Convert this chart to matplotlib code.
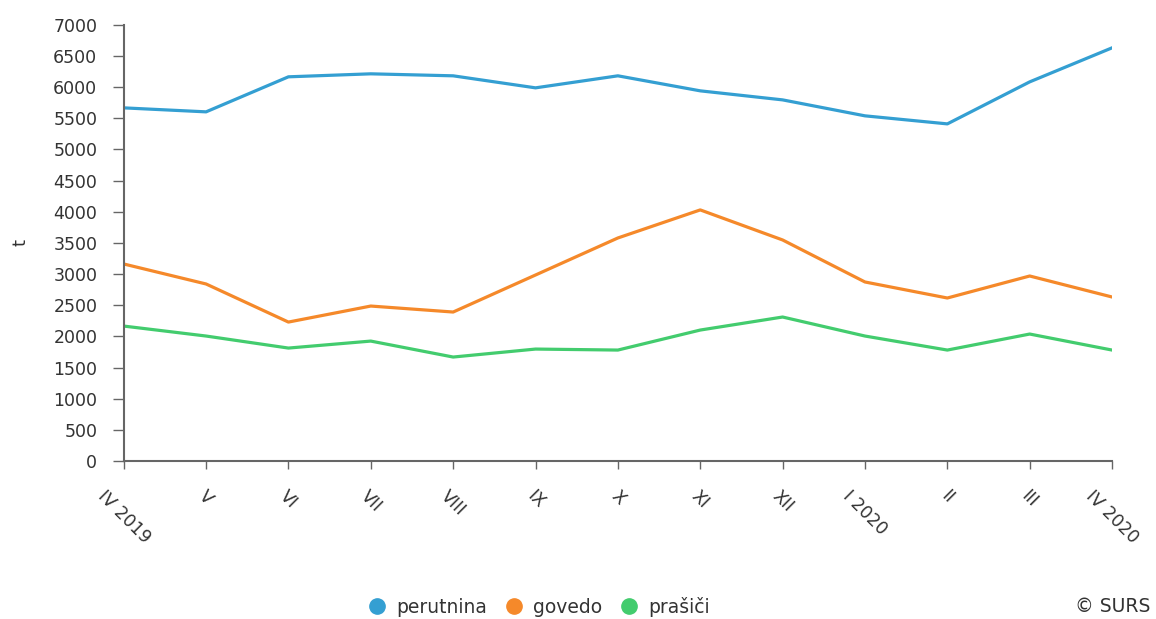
import matplotlib
matplotlib.use("Agg")
import matplotlib.pyplot as plt
from matplotlib.lines import Line2D

plt.rcParams['font.family'] = ['DejaVu Sans']

months = ['IV 2019', 'V', 'VI', 'VII', 'VIII', 'IX', 'X', 'XI', 'XII',
          'I 2020', 'II', 'III', 'IV 2020']
perutnina = [5667, 5603, 6165, 6213, 6181, 5988, 6181, 5940, 5795, 5539, 5410, 6084, 6630]
govedo = [3163, 2842, 2231, 2488, 2392, 2986, 3580, 4030, 3548, 2874, 2617, 2970, 2633]
prasici = [2167, 2007, 1814, 1926, 1670, 1798, 1782, 2103, 2312, 2007, 1782, 2039, 1782]

series = [('perutnina', perutnina, '#349fd2'),
          ('govedo', govedo, '#f5892a'),
          ('prašiči', prasici, '#43cc6e')]

fig = plt.figure(figsize=(11.56, 6.19), dpi=100)
ax = fig.add_axes([0.107, 0.255, 0.855, 0.705])

x = list(range(len(months)))
for name, vals, col in series:
    ax.plot(x, vals, color=col, linewidth=2.3)

ax.set_xlim(0, len(months) - 1)
ax.set_ylim(0, 7000)
ax.set_yticks(range(0, 7001, 500))
ax.set_xticks(x)
ax.set_xticklabels(months, rotation=-45, ha='center', va='top', rotation_mode='default')

for s in ['top', 'right']:
    ax.spines[s].set_visible(False)
for s in ['left', 'bottom']:
    ax.spines[s].set_color('#666666')
    ax.spines[s].set_linewidth(1.5)
ax.tick_params(axis='both', colors='#666666', labelcolor='#333333', labelsize=12.5, width=1)
ax.tick_params(axis='y', length=8, pad=11)
ax.tick_params(axis='x', length=6, pad=13)

# axis title "t" placed by hand so it is not clipped at the left edge
fig.text(0.018, 0.255 + 0.705 / 2, 't', rotation=90, ha='center', va='center',
         fontsize=13, color='#333333')

handles = [Line2D([], [], marker='o', linestyle='none', markersize=11,
                  markerfacecolor=col, markeredgecolor=col) for _, _, col in series]
fig.legend(handles, [n for n, _, _ in series], loc='center', bbox_to_anchor=(0.462, 0.02),
           ncol=3, frameon=False, fontsize=13.5, handletextpad=0.05, columnspacing=0.4,
           labelcolor='#333333')
fig.text(0.995, 0.02, '© SURS', ha='right', va='center', fontsize=13.5, color='#333333')

fig.savefig('out.png', dpi=100)
